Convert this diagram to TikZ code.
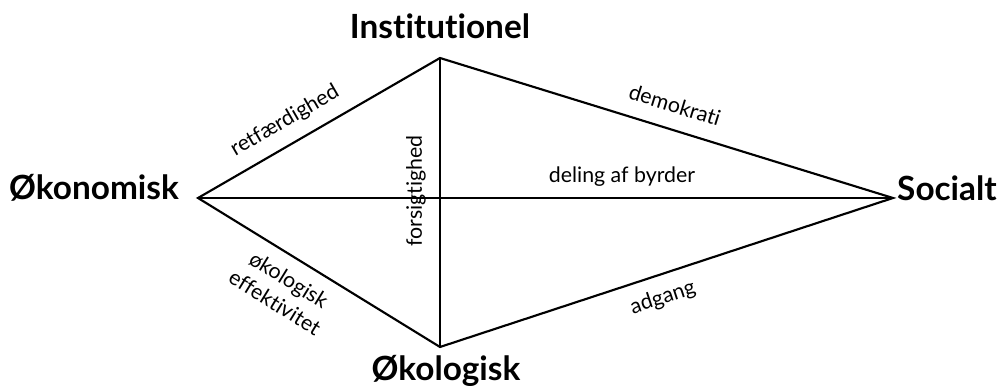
\documentclass[tikz,border=0pt]{standalone}
\usepackage{fontspec}
\setmainfont{Lato}[Ligatures={NoCommon}]
\begin{document}
\begin{tikzpicture}[x=0.75pt,y=-0.75pt,
  edge/.style={line width=1.6pt, line join=miter},
  axis/.style={line width=0.8pt},
  corner/.style={font=\fontsize{25}{30}\selectfont\bfseries, inner sep=0pt},
  lbl/.style={font=\fontsize{16}{20}\selectfont, inner sep=0pt, align=center}]
\useasboundingbox (0,0) rectangle (1001,388);
\coordinate (T) at (440,58);
\coordinate (L) at (198,198);
\coordinate (R) at (893,198);
\coordinate (B) at (440,347);
\draw[axis] (L) -- (R);
\draw[axis] (T) -- (B);
\draw[edge] (L) -- (T) -- (R) -- (B) -- cycle;
\node[corner] (inst) at (440,26) {Institutionel};
\node[corner] (oko) at (94,188) {Økonomisk};
\node[corner] (soc) at (947,188) {Socialt};
\node[corner] (okol) at (446,371) {Økologisk};
\node[lbl, rotate=30.05] (retf) at (285,121) {retfærdighed};
\node[lbl, rotate=-17.2] (demo) at (675,105) {demokrati};
\node[lbl] (deling) at (622,177) {deling af byrder};
\node[lbl, rotate=90] (fors) at (416,191) {forsigtighed};
\node[lbl, rotate=-31.6] (effek) at (282,291) {økologisk\\effektivitet};
\node[lbl, rotate=18.2] (adg) at (663,298) {adgang};
\end{tikzpicture}
\end{document}
